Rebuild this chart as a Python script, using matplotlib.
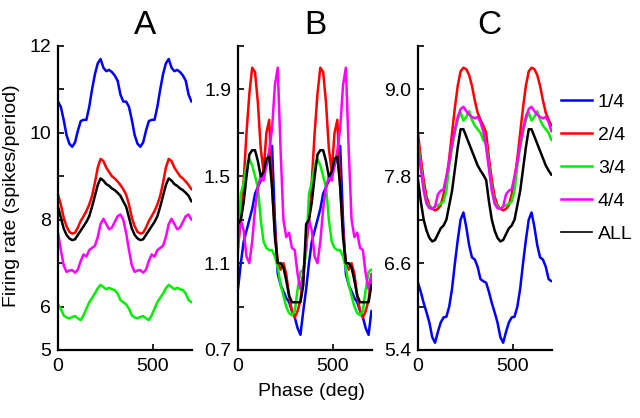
import numpy as np
import matplotlib
matplotlib.use("Agg")
import matplotlib.pyplot as plt
from matplotlib.lines import Line2D

plt.rcParams['font.family'] = ['Liberation Sans', 'DejaVu Sans']

# one phase cycle sampled every 15 deg (0..345); the chart shows two cycles
phase_step = 15
labels = ["1/4", "2/4", "3/4", "4/4", "ALL"]
colors = ["#0000ff", "#ff0000", "#00ee00", "#ff00ff", "#000000"]

# Panel A
A_q1 = [10.72, 10.6, 10.3, 9.95, 9.75, 9.68, 9.78, 10.05, 10.27, 10.3, 10.3, 10.6,
        11.0, 11.35, 11.6, 11.7, 11.5, 11.42, 11.45, 11.4, 11.32, 11.2, 10.88, 10.72]
A_q2 = [8.58, 8.35, 8.05, 7.85, 7.72, 7.68, 7.7, 7.82, 7.97, 8.08, 8.2, 8.35,
        8.55, 8.85, 9.2, 9.4, 9.35, 9.2, 9.1, 9.0, 8.95, 8.88, 8.8, 8.7]
A_q3 = [6.05, 5.95, 5.8, 5.75, 5.73, 5.76, 5.78, 5.73, 5.69, 5.8, 5.95, 6.1,
        6.2, 6.3, 6.42, 6.5, 6.45, 6.4, 6.43, 6.4, 6.38, 6.3, 6.15, 6.1]
A_q4 = [7.7, 7.3, 6.95, 6.8, 6.83, 6.84, 6.78, 6.85, 7.05, 7.2, 7.15, 7.3,
        7.35, 7.4, 7.6, 7.9, 8.02, 7.9, 7.78, 7.82, 7.95, 8.08, 8.12, 8.0]
A_all = [8.3, 8.05, 7.8, 7.65, 7.57, 7.53, 7.55, 7.65, 7.75, 7.85, 7.95, 8.08,
         8.3, 8.55, 8.8, 8.95, 8.9, 8.82, 8.78, 8.72, 8.68, 8.62, 8.55, 8.42]

# Panel B
B_q1 = [0.98, 1.1, 1.2, 1.25, 1.3, 1.35, 1.42, 1.45, 1.48, 1.52, 1.55, 1.6,
        1.64, 1.3, 1.05, 1.0, 0.97, 0.94, 0.92, 0.88, 0.85, 0.8, 0.77, 0.88]
B_q2 = [1.17, 1.3, 1.48, 1.7, 1.88, 2.0, 1.98, 1.84, 1.63, 1.52, 1.7, 1.76,
        1.45, 1.25, 1.1, 1.07, 1.1, 1.05, 0.95, 0.88, 0.85, 0.88, 0.93, 1.05]
B_q3 = [1.15, 1.42, 1.47, 1.55, 1.58, 1.55, 1.5, 1.45, 1.3, 1.2, 1.17, 1.16,
        1.16, 1.13, 1.08, 1.0, 0.95, 0.9, 0.87, 0.86, 0.88, 0.98, 1.06, 1.07]
B_q4 = [1.2, 1.3, 1.25, 1.13, 1.1, 1.2, 1.35, 1.45, 1.5, 1.48, 1.55, 1.62,
        1.72, 1.92, 2.0, 1.62, 1.3, 1.22, 1.24, 1.17, 1.16, 1.05, 0.98, 1.05]
B_all = [1.28, 1.3, 1.38, 1.5, 1.6, 1.62, 1.62, 1.57, 1.5, 1.52, 1.58, 1.59,
         1.45, 1.22, 1.1, 1.1, 1.08, 1.02, 0.95, 0.92, 0.92, 0.92, 0.92, 1.0]

# Panel C
C_q1 = [6.33, 6.2, 6.05, 5.92, 5.78, 5.58, 5.5, 5.65, 5.78, 5.85, 5.86, 6.0,
        6.25, 6.6, 6.92, 7.2, 7.3, 7.1, 6.85, 6.68, 6.65, 6.55, 6.38, 6.35]
C_q2 = [8.4, 8.05, 7.75, 7.52, 7.4, 7.35, 7.33, 7.35, 7.4, 7.55, 7.75, 8.05,
        8.4, 8.75, 9.05, 9.25, 9.3, 9.28, 9.2, 9.05, 8.85, 8.68, 8.58, 8.5]
C_q3 = [8.25, 7.95, 7.65, 7.45, 7.38, 7.35, 7.38, 7.4, 7.42, 7.45, 7.6, 7.95,
        8.2, 8.4, 8.58, 8.68, 8.57, 8.62, 8.7, 8.58, 8.5, 8.45, 8.4, 8.3]
C_q4 = [8.2, 7.9, 7.6, 7.42, 7.36, 7.35, 7.38, 7.55, 7.6, 7.62, 7.8, 8.0,
        8.25, 8.45, 8.62, 8.73, 8.76, 8.7, 8.65, 8.62, 8.6, 8.62, 8.55, 8.42]
C_all = [7.75, 7.45, 7.2, 7.05, 6.95, 6.9, 6.92, 7.0, 7.08, 7.12, 7.2, 7.4,
         7.6, 7.9, 8.2, 8.45, 8.45, 8.35, 8.25, 8.15, 8.05, 7.95, 7.88, 7.82]

panels = [
    ("A", [A_q1, A_q2, A_q3, A_q4, A_all], (5, 12), [5, 6, 7, 8, 9, 10, 11, 12],
     ["5", "6", "", "8", "", "10", "", "12"]),
    ("B", [B_q1, B_q2, B_q3, B_q4, B_all], (0.7, 2.1), [0.7, 0.9, 1.1, 1.3, 1.5, 1.7, 1.9, 2.1],
     ["0.7", "", "1.1", "", "1.5", "", "1.9", ""]),
    ("C", [C_q1, C_q2, C_q3, C_q4, C_all], (5.4, 9.6), [5.4, 6.0, 6.6, 7.2, 7.8, 8.4, 9.0, 9.6],
     ["5.4", "", "6.6", "", "7.8", "", "9.0", ""]),
]

W, H = 640, 418
fig = plt.figure(figsize=(6.4, 4.18), dpi=100)

ax_left_px = [58, 238, 418]
ax_w_px = 134
top_px, bot_px = 46, 350
title_x_px = [145, 315, 489]

for i, (title, series, ylim, yticks, yticklabels) in enumerate(panels):
    ax = fig.add_axes([ax_left_px[i] / W, 1 - bot_px / H, ax_w_px / W, (bot_px - top_px) / H])
    for vals, col in zip(series, colors):
        y = np.tile(np.asarray(vals), 2)
        x = np.arange(len(y)) * phase_step
        ax.plot(x, y, color=col, lw=1.8, solid_capstyle='round')
    ax.set_xlim(0, 708)
    ax.set_ylim(*ylim)
    ax.set_yticks(yticks)
    ax.set_yticklabels(yticklabels)
    ax.set_xticks([0, 500])
    ax.set_xticklabels(["0", "500"])
    for s in ['top', 'right']:
        ax.spines[s].set_visible(False)
    for s in ['left', 'bottom']:
        ax.spines[s].set_linewidth(1.6)
    ax.tick_params(direction='in', length=4, width=1.2, labelsize=14)
    ax.tick_params(axis='x', pad=6)
    ax.tick_params(axis='y', pad=5)
    ax.patch.set_alpha(0)
    fig.text(title_x_px[i] / W, 1 - 25 / H, title, fontsize=24, ha='center', va='center')
    if i == 2:
        handles = [Line2D([], [], color=c, lw=(1.8 if c != "#000000" else 1.2)) for c in colors]
        ax.legend(handles, labels, loc='upper left', bbox_to_anchor=(561 / W, 1 - 93 / H),
                  bbox_transform=fig.transFigure, frameon=False, fontsize=14,
                  handlelength=1.6, handletextpad=0.3, labelspacing=0.8, borderpad=0,
                  borderaxespad=0)

fig.text(12 / W, 1 - 196 / H, "Firing rate (spikes/period)", rotation=90, fontsize=14,
         ha='center', va='center')
fig.text(311 / W, 1 - 392 / H, "Phase (deg)", fontsize=14, ha='center', va='center')

fig.savefig("out.png", dpi=100)
